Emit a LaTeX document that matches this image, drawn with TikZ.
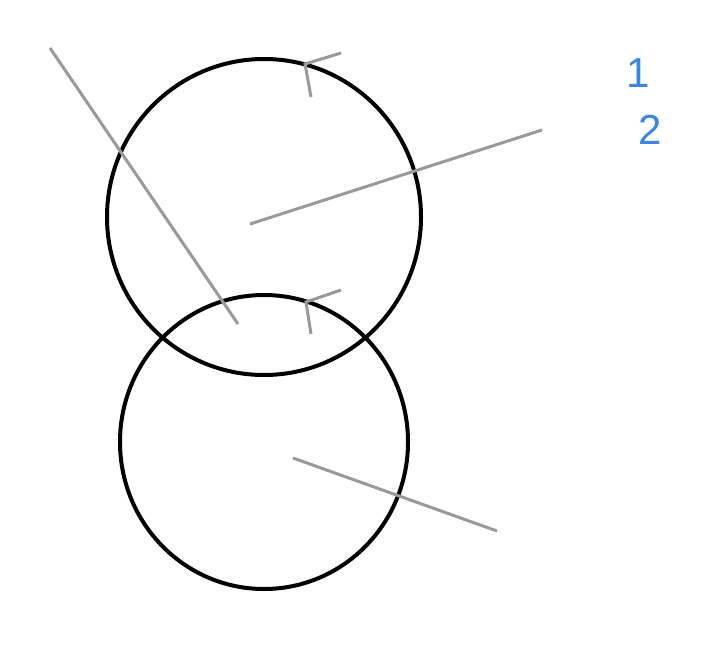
\documentclass[tikz,border=0pt]{standalone}
\usepackage{fontspec}
\setmainfont{Liberation Sans}
\definecolor{lblblue}{HTML}{3A86E0}
\definecolor{linegray}{HTML}{999999}
\begin{document}
\begin{tikzpicture}[x=1pt,y=-1pt,
  ring/.style={draw=black,line width=4pt},
  grayline/.style={draw=linegray,line width=3pt},
  numlabel/.style={text=lblblue,font=\fontsize{42}{42}\selectfont,inner sep=0pt}]
\useasboundingbox (0,0) rectangle (722,650);
\draw[ring] (264,217) ellipse [x radius=157,y radius=158];
\draw[ring] (264,442) ellipse [x radius=144,y radius=147];
% gray lines
\coordinate (a1) at (50,48); \coordinate (a2) at (238,324);
\coordinate (b1) at (250,224); \coordinate (b2) at (542,130);
\coordinate (c1) at (293,458); \coordinate (c2) at (497,531);
\draw[grayline] (a1) -- (a2);
\draw[grayline] (b1) -- (b2);
\draw[grayline] (c1) -- (c2);
% ticks
\coordinate (t1) at (305,64); \coordinate (t1a) at (341,53); \coordinate (t1b) at (311,97);
\coordinate (t2) at (306,302); \coordinate (t2a) at (341,290); \coordinate (t2b) at (311,334);
\draw[grayline] (t1a) -- (t1) -- (t1b);
\draw[grayline] (t2a) -- (t2) -- (t2b);
\node[numlabel] (n1) at (638,73) {1};
\node[numlabel] (n2) at (650,130) {2};
\end{tikzpicture}
\end{document}
